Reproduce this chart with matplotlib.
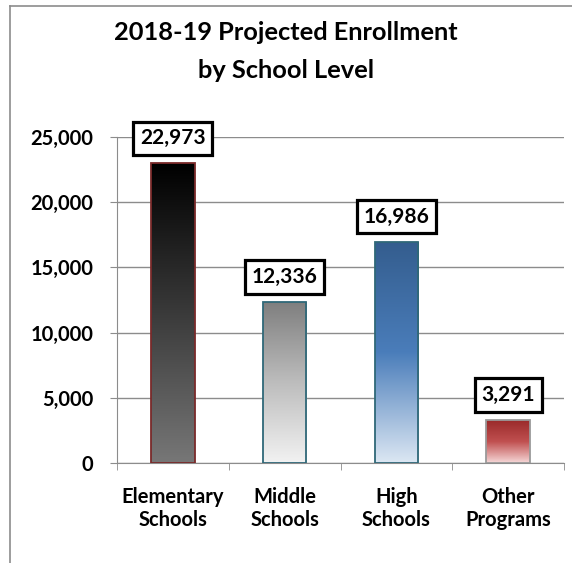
import numpy as np
import matplotlib
matplotlib.use("Agg")
import matplotlib.pyplot as plt
from matplotlib.colors import LinearSegmentedColormap
from matplotlib.lines import Line2D
from matplotlib.ticker import FuncFormatter

CATEGORIES = ["Elementary\nSchools", "Middle\nSchools", "High\nSchools", "Other\nPrograms"]
ENROLLMENT = [22973, 12336, 16986, 3291]
YTICKS = [0, 5000, 10000, 15000, 20000, 25000]

# gradient stops, top -> bottom
GRADIENTS = [
    ["#000000", "#3a3a3a", "#777777"],
    ["#7f7f7f", "#bdbdbd", "#f2f2f2"],
    ["#345d8e", "#4a7dba", "#dce7f3"],
    ["#9a2a2a", "#c05050", "#f6d8d8"],
]
EDGES = ["#7a2a2a", "#2f6878", "#2f6878", "#9a9a9a"]

FONT = "Lato"
GRID = "#8c8c8c"

plt.rcParams["font.family"] = [FONT, "DejaVu Sans"]

fig = plt.figure(figsize=(5.72, 5.63), dpi=100)
ax = fig.add_axes([117 / 572, 1 - 463 / 563, (564 - 117) / 572, (463 - 137) / 563])

x = np.arange(len(CATEGORIES))
bars = ax.bar(x, ENROLLMENT, width=0.39, color="none", zorder=3)

grad = np.linspace(0, 1, 256).reshape(-1, 1)
for b, stops, ec, val in zip(bars, GRADIENTS, EDGES, ENROLLMENT):
    cmap = LinearSegmentedColormap.from_list("g", stops)
    x0, w = b.get_x(), b.get_width()
    im = ax.imshow(grad, cmap=cmap, aspect="auto", origin="upper",
                   extent=[x0, x0 + w, 0, val], zorder=2)
    im.set_clip_path(b)
    b.set_edgecolor(ec)
    b.set_linewidth(1.3)
    ax.annotate(f"{val:,}", (b.get_x() + w / 2, val), xytext=(0, 18),
                textcoords="offset points", ha="center", va="center",
                fontsize=15, fontweight="bold", zorder=5,
                bbox=dict(boxstyle="square,pad=0.32", fc="white", ec="black", lw=2.3))

ax.set_xlim(-0.5, 3.5)
ax.set_ylim(0, 25000)
ax.set_yticks(YTICKS)
ax.yaxis.set_major_formatter(FuncFormatter(lambda v, p: f"{int(v):,}"))
ax.set_xticks(x)
ax.set_xticklabels(CATEGORIES)
ax.set_xticks(np.arange(-0.5, 4.0, 1.0), minor=True)
ax.tick_params(axis="x", which="major", length=0, pad=17)
ax.tick_params(axis="x", which="minor", length=5, color=GRID, direction="out")
ax.tick_params(axis="y", length=5, color=GRID, pad=12)
for lab in ax.get_xticklabels() + ax.get_yticklabels():
    lab.set_fontsize(14.5)
    lab.set_fontweight("bold")

ax.grid(axis="y", color=GRID, lw=1, zorder=0)
ax.set_axisbelow(True)
for s in ["top", "right"]:
    ax.spines[s].set_visible(False)
for s in ["left", "bottom"]:
    ax.spines[s].set_color(GRID)

fig.text(0.5, 1 - 33 / 563, "2018-19 Projected Enrollment", ha="center", va="center",
         fontsize=18.3, fontweight="bold")
fig.text(0.5, 1 - 70 / 563, "by School Level", ha="center", va="center",
         fontsize=18.3, fontweight="bold")

# outer chart frame
fx, fy = 10 / 572, 1 - 6 / 563
fig.add_artist(Line2D([fx, fx], [0, fy], color=GRID, lw=1.2))
fig.add_artist(Line2D([fx, 1], [fy, fy], color=GRID, lw=1.2))

fig.savefig("out.png", dpi=100)
